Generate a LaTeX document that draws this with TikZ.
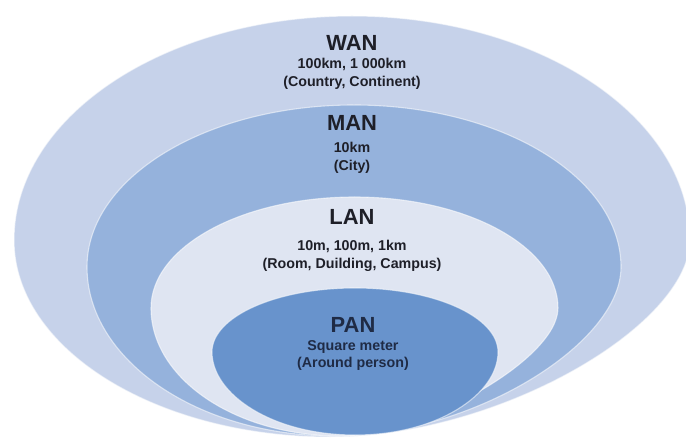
\documentclass[tikz,border=0pt]{standalone}
\usepackage{fontspec}
\setmainfont{Liberation Sans}
\definecolor{wancol}{HTML}{C6D2EA}
\definecolor{mancol}{HTML}{95B2DC}
\definecolor{lancol}{HTML}{DFE5F2}
\definecolor{pancol}{HTML}{6893CC}
\definecolor{txtcol}{HTML}{1E1F28}
\definecolor{pantxt}{HTML}{1F2B45}
\tikzset{
  zone/.style={fill=#1, draw=white, draw opacity=0.55, line width=1.1pt},
  title/.style={font=\fontsize{22}{24}\selectfont\bfseries, text=txtcol, inner sep=0pt},
  sub/.style={font=\fontsize{14.3}{18}\selectfont\bfseries, text=txtcol, align=center, inner sep=0pt},
}
\begin{document}
\begin{tikzpicture}[x=1bp,y=-1bp]
\useasboundingbox[fill=white] (0,0) rectangle (686,440);
% WAN
\path[zone=wancol] (14,240) .. controls (14,116.3) and (165.3,16) .. (352,16)
  .. controls (538.7,16) and (690,116.3) .. (690,240)
  .. controls (690,325) and (500,437) .. (330,437)
  .. controls (156,437) and (14,349) .. (14,240) -- cycle;
% MAN
\path[zone=mancol] (87,267) .. controls (87,177.5) and (206.5,105) .. (354,105)
  .. controls (501.5,105) and (621,177.5) .. (621,267)
  .. controls (621,345) and (470,436) .. (335,436)
  .. controls (198,436) and (87,360) .. (87,267) -- cycle;
% LAN
\path[zone=lancol] (151,308) .. controls (151,246.7) and (242.1,197) .. (354.5,197)
  .. controls (466.9,197) and (558,246.7) .. (558,308)
  .. controls (558,360) and (420,436) .. (340,436)
  .. controls (236,436) and (151,379) .. (151,308) -- cycle;
% PAN
\path[zone=pancol] (212,352) .. controls (212,316.7) and (276,288) .. (355,288)
  .. controls (434,288) and (498,316.7) .. (498,352)
  .. controls (498,394) and (438,435) .. (355,435)
  .. controls (272,435) and (212,394) .. (212,352) -- cycle;

\node[title] (want) at (352,43) {WAN};
\node[sub] (wans) at (352,74) {100km, 1 000km\\(Country, Continent)};
\node[title] (mant) at (352,123) {MAN};
\node[sub] (mans) at (352,158) {10km\\(City)};
\node[title] (lant) at (352,217) {LAN};
\node[sub] (lans) at (352,256) {10m, 100m, 1km\\(Room, Duilding, Campus)};
\node[title, text=pantxt] (pant) at (353,325) {PAN};
\node[sub, text=pantxt] (pans) at (353,355.5) {Square meter\\(Around person)};
\end{tikzpicture}
\end{document}
